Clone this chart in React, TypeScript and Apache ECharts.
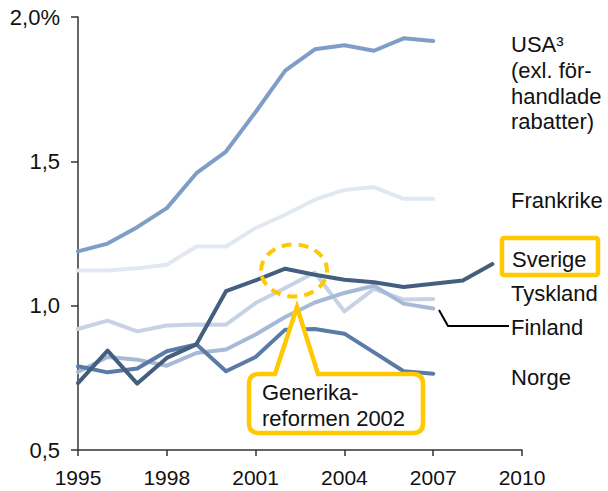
import React, { useEffect, useRef } from "react";
import * as echarts from "echarts";

const years = [1995, 1996, 1997, 1998, 1999, 2000, 2001, 2002, 2003, 2004, 2005, 2006, 2007, 2008, 2009];
const usa = [1.188, 1.215, 1.272, 1.338, 1.459, 1.534, 1.671, 1.814, 1.888, 1.902, 1.883, 1.926, 1.917];
const frankrike = [1.122, 1.122, 1.13, 1.142, 1.205, 1.205, 1.269, 1.315, 1.367, 1.401, 1.411, 1.37, 1.37];
const tyskland = [0.919, 0.948, 0.911, 0.931, 0.935, 0.934, 1.009, 1.061, 1.115, 0.98, 1.058, 1.021, 1.023];
const finland = [0.77, 0.822, 0.813, 0.792, 0.836, 0.848, 0.9, 0.961, 1.011, 1.044, 1.069, 1.007, 0.99];
const norge = [0.79, 0.769, 0.782, 0.842, 0.866, 0.773, 0.822, 0.917, 0.919, 0.903, 0.838, 0.773, 0.764];
const sverige = [0.732, 0.844, 0.73, 0.819, 0.866, 1.05, 1.088, 1.128, 1.107, 1.09, 1.081, 1.065, 1.076, 1.087, 1.144];

const yTickLabels = ["0,5", "1,0", "1,5", "2,0%"];
const usaLabel = ["USA³", "(exl. för-", "handlade", "rabatter)"];
const calloutLines = ["Generika-", "reformen 2002"];

const FONT = "'Liberation Sans', Arial, sans-serif";
const YELLOW = "#ffc800";

let registered = false;
function registerShapes() {
  if (registered) return;
  registered = true;
  const d =
    "M259 374 L275 374 L297 307 L318 374 L413 374 Q423 374 423 384 L423 423 Q423 433 413 433 L259 433 Q249 433 249 423 L249 384 Q249 374 259 374 Z";
  echarts.graphic.registerShape("callout", echarts.graphic.extendPath(d, {}) as any);
}

function pairs(vals: number[]) {
  return vals.map((v, i) => [years[i], v]);
}

export default function App() {
  const ref = useRef<HTMLDivElement>(null);
  useEffect(() => {
    document.body.style.margin = "0";
    registerShapes();
    const chart = echarts.init(ref.current!, null, { renderer: "svg" });
    const mk = (name: string, vals: number[], color: string, width: number) => ({
      name,
      type: "line",
      data: pairs(vals),
      showSymbol: false,
      symbol: "none",
      lineStyle: { color, width, cap: "round", join: "round" },
      itemStyle: { color },
    });
    const txt = (text: string, x: number, y: number, size = 22) => ({
      type: "text",
      x,
      y,
      z: 20,
      style: {
        text,
        fill: "#111",
        font: `${size}px ${FONT}`,
        textAlign: "left",
        textVerticalAlign: "middle",
      },
    });
    chart.setOption({
      animation: false,
      grid: { left: 78, right: 86, top: 17, bottom: 41, containLabel: false },
      xAxis: {
        type: "value",
        min: 1995,
        max: 2010,
        interval: 3,
        splitLine: { show: false },
        axisLine: { show: true, lineStyle: { color: "#333", width: 1.5 } },
        axisTick: { show: true, length: 6, lineStyle: { color: "#333", width: 1.5 } },
        axisLabel: {
          margin: 17,
          color: "#111",
          fontSize: 21,
          fontFamily: FONT,
          formatter: (v: number) => String(v),
        },
      },
      yAxis: {
        type: "value",
        min: 0.5,
        max: 2.0,
        interval: 0.5,
        splitLine: { show: false },
        axisLine: { show: true, lineStyle: { color: "#333", width: 1.5 } },
        axisTick: { show: true, length: 7, lineStyle: { color: "#333", width: 1.5 } },
        axisLabel: {
          margin: 18,
          color: "#111",
          fontSize: 22,
          fontFamily: FONT,
          formatter: (v: number) => yTickLabels[Math.round((v - 0.5) / 0.5)],
        },
      },
      series: [
        mk("Frankrike", frankrike, "#e2e8f2", 4),
        mk("USA", usa, "#7e9ec7", 4),
        mk("Tyskland", tyskland, "#c7d3e5", 4),
        mk("Finland", finland, "#a6bad7", 4),
        mk("Norge", norge, "#5a7ba6", 4),
        mk("Sverige", sverige, "#435e7e", 4),
      ],
      graphic: [
        {
          type: "ellipse",
          z: 10,
          shape: { cx: 294, cy: 270.5, rx: 33, ry: 26 },
          style: { fill: "none", stroke: YELLOW, lineWidth: 4, lineDash: [10, 7] },
        },
        {
          type: "callout",
          x: 0,
          y: 0,
          z: 10,
          style: { fill: "#fff", stroke: YELLOW, lineWidth: 4.5, lineJoin: "miter" },
        },
        txt(calloutLines[0], 262, 392),
        txt(calloutLines[1], 262, 418),
        {
          type: "rect",
          z: 10,
          shape: { x: 502, y: 238, width: 96, height: 37, r: 2 },
          style: { fill: "#fff", stroke: YELLOW, lineWidth: 4.5 },
        },
        {
          type: "polyline",
          z: 10,
          shape: { points: [[439, 310], [448, 326], [509, 326]] },
          style: { stroke: "#000", lineWidth: 2, fill: "none" },
        },
        txt(usaLabel[0], 511, 44),
        txt(usaLabel[1], 511, 70),
        txt(usaLabel[2], 511, 96),
        txt(usaLabel[3], 511, 121),
        txt("Frankrike", 511, 200),
        txt("Sverige", 512, 259),
        txt("Tyskland", 511, 293),
        txt("Finland", 511, 327),
        txt("Norge", 511, 377),
      ],
    });
    return () => chart.dispose();
  }, []);
  return (
    <div
      ref={ref}
      style={{ position: "absolute", left: 0, top: 0, width: 608, height: 491 }}
    />
  );
}
